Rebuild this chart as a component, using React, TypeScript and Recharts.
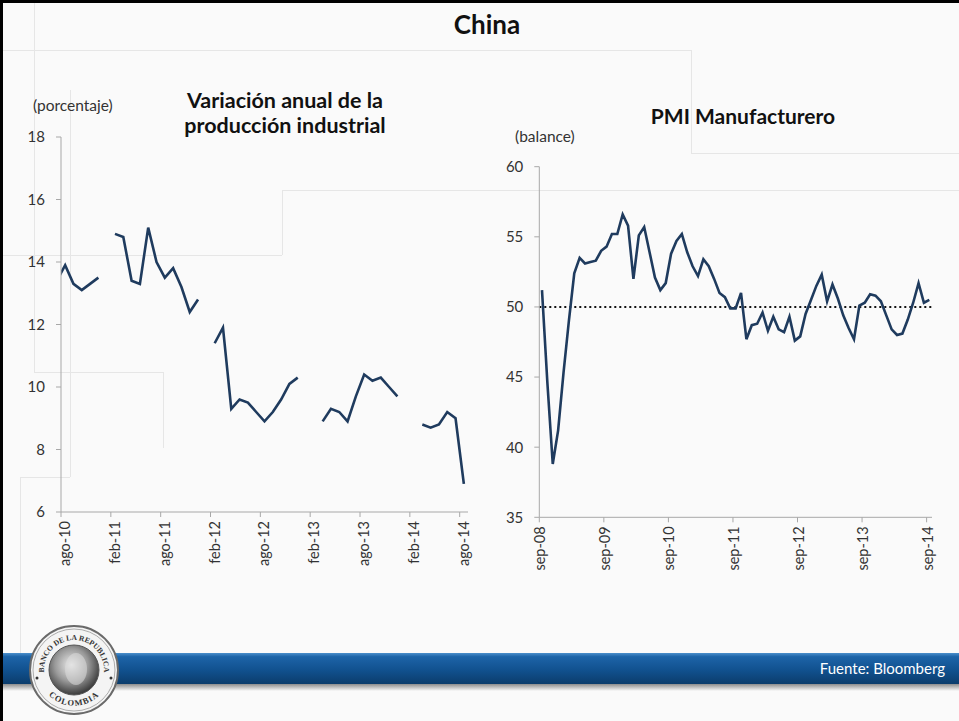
import React from "react";
import { LineChart, Line, XAxis, YAxis, ReferenceLine } from "recharts";

// Variación anual de la producción industrial, mensual desde jul-10 (jul-10 queda antes del eje)
const ipValues: (number | null)[] = [
  13.4, 13.9, 13.3, 13.1, 13.3, 13.5,
  null, 14.9, 14.8, 13.4, 13.3, 15.1, 14.0, 13.5, 13.8, 13.2, 12.4, 12.8,
  null, 11.4, 11.9, 9.3, 9.6, 9.5, 9.2, 8.9, 9.2, 9.6, 10.1, 10.3,
  null, null, 8.9, 9.3, 9.2, 8.9, 9.7, 10.4, 10.2, 10.3, 10.0, 9.7,
  null, null, 8.8, 8.7, 8.8, 9.2, 9.0, 6.9,
];
const ipTickLabels = ["ago-10", "feb-11", "ago-11", "feb-12", "ago-12", "feb-13", "ago-13", "feb-14", "ago-14"];
const ipYTicks = [6, 8, 10, 12, 14, 16, 18];

// PMI manufacturero, mensual desde sep-08
const pmiValues: number[] = [
  51.2, 44.6, 38.8, 41.2,
  45.3, 49.0, 52.4, 53.5, 53.1, 53.2, 53.3, 54.0, 54.3, 55.2, 55.2, 56.6,
  55.8, 52.0, 55.1, 55.7, 53.9, 52.1, 51.2, 51.7, 53.8, 54.7, 55.2, 53.9,
  52.9, 52.2, 53.4, 52.9, 52.0, 51.0, 50.7, 49.9, 49.9, 51.0, 47.7, 48.7,
  48.8, 49.6, 48.3, 49.3, 48.4, 48.2, 49.3, 47.6, 47.9, 49.5, 50.5, 51.5,
  52.3, 50.4, 51.6, 50.6, 49.4, 48.5, 47.7, 50.1, 50.3, 50.9, 50.8, 50.4,
  49.4, 48.4, 48.0, 48.1, 49.1, 50.3, 51.7, 50.3, 50.5,
];
const pmiTickLabels = ["sep-08", "sep-09", "sep-10", "sep-11", "sep-12", "sep-13", "sep-14"];
const pmiYTicks = [35, 40, 45, 50, 55, 60];
const pmiRef = 50;

const FONT = "Lato, 'Open Sans', sans-serif";
const NAVY = "#1f3b5e";
const AXIS = "#a8a8a8";

const ipData = ipValues.map((v, i) => ({ t: i - 0.5, v }));
const pmiData = pmiValues.map((v, i) => ({ t: i + 0.5, v }));

function RotTick(props: any) {
  const { x, y, payload, labels, step, dx } = props;
  return (
    <text
      transform={`translate(${x + dx},${y + 2}) rotate(-90)`}
      textAnchor="end"
      fontSize={14.5}
      fill="#333"
      fontFamily={FONT}
    >
      {labels[Math.round(payload.value / step)]}
    </text>
  );
}

function Hline({ x, y, w }: { x: number; y: number; w: number }) {
  return <div style={{ position: "absolute", left: x, top: y, width: w, height: 1, background: "#e6e6e6" }} />;
}
function Vline({ x, y, h }: { x: number; y: number; h: number }) {
  return <div style={{ position: "absolute", left: x, top: y, width: 1, height: h, background: "#e6e6e6" }} />;
}

function Logo() {
  return (
    <svg width={96} height={96} style={{ position: "absolute", left: 26, top: 622 }}>
      <defs>
        <radialGradient id="med" cx="45%" cy="40%" r="60%">
          <stop offset="0%" stopColor="#ececec" />
          <stop offset="55%" stopColor="#9a9a9a" />
          <stop offset="100%" stopColor="#3a3a3a" />
        </radialGradient>
        <path id="topArc" d="M 19.8 58.3 A 30 30 0 1 1 76.2 58.3" />
        <path id="botArc" d="M 17 66 A 36 36 0 0 0 79 66" />
      </defs>
      <circle cx={48} cy={48} r={44} fill="#f4f4f4" stroke="#6a6a6a" strokeWidth={2} />
      <circle cx={48} cy={48} r={41} fill="none" stroke="#999" strokeWidth={0.8} />
      <circle cx={48} cy={48} r={25} fill="url(#med)" stroke="#555" strokeWidth={1} />
      <ellipse cx={50} cy={47} rx={11} ry={16} fill="#dcdcdc" opacity={0.55} />
      <text fontSize={7.6} fontWeight={700} fill="#333" fontFamily="serif">
        <textPath href="#topArc" startOffset="50%" textAnchor="middle">BANCO DE LA REPUBLICA</textPath>
      </text>
      <text fontSize={8.5} fontWeight={700} fill="#333" fontFamily="serif" letterSpacing={1}>
        <textPath href="#botArc" startOffset="50%" textAnchor="middle">COLOMBIA</textPath>
      </text>
      <circle cx={11} cy={56} r={1.5} fill="#333" />
      <circle cx={85} cy={56} r={1.5} fill="#333" />
    </svg>
  );
}

export default function App() {
  return (
    <div
      style={{
        position: "absolute",
        left: 0,
        top: 0,
        width: 959,
        height: 721,
        background: "#fafafa",
        overflow: "hidden",
        fontFamily: FONT,
        color: "#111",
      }}
    >
      {/* marco */}
      <div style={{ position: "absolute", left: 0, top: 0, width: 959, height: 3, background: "#000" }} />
      <div style={{ position: "absolute", left: 0, top: 0, width: 3, height: 721, background: "#000" }} />

      {/* líneas decorativas de la plantilla */}
      <Vline x={34} y={3} h={369} />
      <Hline x={3} y={50} w={688} />
      <Vline x={691} y={50} h={103} />
      <Hline x={691} y={153} w={268} />
      <Hline x={282} y={190} w={677} />
      <Vline x={282} y={190} h={65} />
      <Hline x={3} y={255} w={279} />
      <Vline x={70} y={90} h={387} />
      <Hline x={34} y={372} w={129} />
      <Vline x={163} y={372} h={76} />
      <Hline x={20} y={477} w={50} />
      <Vline x={20} y={477} h={176} />

      <div style={{ position: "absolute", left: 0, top: 8, width: 974, textAlign: "center", fontSize: 26, fontWeight: 700 }}>
        China
      </div>

      <div style={{ position: "absolute", left: 135, top: 88, width: 300, textAlign: "center", fontSize: 21.5, fontWeight: 700, lineHeight: "25px" }}>
        Variación anual de la
        <br />
        producción industrial
      </div>
      <div style={{ position: "absolute", left: 33, top: 96, fontSize: 15.5, color: "#333" }}>(porcentaje)</div>

      <div style={{ position: "absolute", left: 593, top: 103, width: 300, textAlign: "center", fontSize: 21, fontWeight: 700 }}>
        PMI Manufacturero
      </div>
      <div style={{ position: "absolute", left: 515, top: 127, fontSize: 15.5, color: "#333" }}>(balance)</div>

      <div style={{ position: "absolute", left: 0, top: 100 }}>
        <LineChart width={500} height={480} data={ipData} margin={{ top: 37, right: 32, bottom: 8, left: 0 }}>
          <XAxis
            dataKey="t"
            type="number"
            domain={[0, 49]}
            allowDataOverflow
            ticks={ipTickLabels.map((_, i) => i * 6)}
            interval={0}
            height={60}
            tickSize={5}
            axisLine={{ stroke: AXIS }}
            tickLine={{ stroke: AXIS }}
            tick={(p: any) => <RotTick {...p} labels={ipTickLabels} step={6} dx={9} />}
          />
          <YAxis
            type="number"
            domain={[6, 18]}
            ticks={ipYTicks}
            interval={0}
            width={61}
            tickSize={5}
            tickMargin={11}
            axisLine={{ stroke: AXIS }}
            tickLine={{ stroke: AXIS }}
            tick={{ fill: "#333", fontSize: 15, fontFamily: FONT }}
          />
          <Line
            dataKey="v"
            stroke={NAVY}
            strokeWidth={2.6}
            dot={false}
            activeDot={false}
            isAnimationActive={false}
          />
        </LineChart>
      </div>

      <div style={{ position: "absolute", left: 470, top: 130 }}>
        <LineChart width={489} height={450} data={pmiData} margin={{ top: 36.7, right: 27, bottom: 7.7, left: 0 }}>
          <XAxis
            dataKey="t"
            type="number"
            domain={[0, 73]}
            allowDataOverflow
            ticks={pmiTickLabels.map((_, i) => i * 12)}
            interval={0}
            height={55}
            tickSize={5}
            axisLine={{ stroke: AXIS }}
            tickLine={{ stroke: AXIS }}
            tick={(p: any) => <RotTick {...p} labels={pmiTickLabels} step={12} dx={6} />}
          />
          <YAxis
            type="number"
            domain={[35, 60]}
            ticks={pmiYTicks}
            interval={0}
            width={69.3}
            tickSize={5}
            tickMargin={11}
            axisLine={{ stroke: AXIS }}
            tickLine={{ stroke: AXIS }}
            tick={{ fill: "#333", fontSize: 15, fontFamily: FONT }}
          />
          <ReferenceLine y={pmiRef} stroke="#111" strokeWidth={2} strokeDasharray="2 3" />
          <Line
            dataKey="v"
            stroke={NAVY}
            strokeWidth={2.6}
            dot={false}
            activeDot={false}
            isAnimationActive={false}
          />
        </LineChart>
      </div>

      {/* franja inferior */}
      <div
        style={{
          position: "absolute",
          left: 3,
          top: 653,
          width: 956,
          height: 31,
          background: "linear-gradient(#4b8fcb 0%, #1d64a8 12%, #11518f 55%, #0b3c6c 100%)",
        }}
      />
      <div
        style={{
          position: "absolute",
          left: 3,
          top: 684,
          width: 956,
          height: 7,
          background: "linear-gradient(#8c8c8c, rgba(200,200,200,0))",
        }}
      />
      <div style={{ position: "absolute", right: 14, top: 659, fontSize: 15, color: "#fff" }}>Fuente: Bloomberg</div>

      <Logo />
    </div>
  );
}
